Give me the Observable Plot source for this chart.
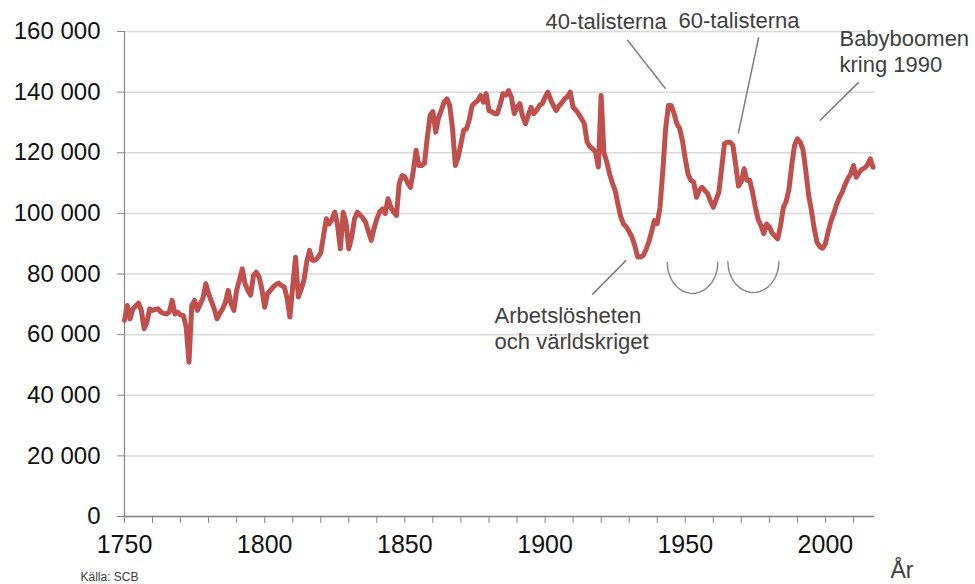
<!DOCTYPE html>
<html>
<head>
<meta charset="utf-8">
<script src="https://cdn.jsdelivr.net/npm/d3@7"></script>
<script src="https://cdn.jsdelivr.net/npm/@observablehq/plot@0.6"></script>
<style>
  html, body { margin: 0; padding: 0; background: #fff; }
  #chart svg { display: block; }
</style>
</head>
<body>
<div id="chart"></div>
<script>
// ---- Data (levande födda per år, läst ur bilden) ----
const startYear = 1750;

const births1750 = [
  64700, 69600, 65200, 68500, 69500, 70400, 68000, 61900, 64100, 68500,
  68000, 68300, 68500, 67400, 67000, 66800, 67500, 71300, 66800, 67400,
  66500, 66300, 62500, 50900, 69600, 71300, 68000, 70000, 72000, 76800,
  73500, 71000, 68500, 65200, 67000, 68500, 70700, 74600, 70200, 68000,
  74600, 78000, 81700, 76800, 74500, 73000, 79500, 80600, 79000, 75000
];
const births1800 = [
  69000, 73500, 74600, 75700, 76500, 77000, 76200, 75700, 72000, 65800,
  76000, 85500, 72400, 75000, 77900, 84000, 87800, 84500, 84500, 85500,
  87000, 92700, 98200, 96500, 98000, 100400, 96000, 88300, 100400, 97000,
  88300, 92000, 98000, 100400, 99500, 98500, 97100, 94000, 91100, 95000,
  98200, 100500, 101500, 99900, 104800, 102000, 100500, 99300, 110000, 112500
];
const births1850 = [
  112000, 110000, 108600, 114000, 120800, 115800, 115800, 116500, 125000, 132300,
  133600, 126800, 131500, 134000, 136700, 137800, 135500, 128000, 115800, 118500,
  123000, 127400, 127900, 131000, 135600, 136500, 137200, 138900, 136700, 139500,
  133900, 133500, 132900, 132900, 136000, 139500, 139000, 140500, 138300, 132900,
  135000, 136200, 132000, 129600, 132300, 135000, 132900, 134000, 135600, 136200
];
const births1900 = [
  138300, 140000, 137500, 135500, 133900, 135500, 136500, 137800, 138500, 140000,
  135000, 134000, 132800, 131200, 129600, 123500, 122000, 121300, 120200, 115300,
  138900, 120000, 117000, 113100, 110000, 107600, 103000, 98800, 96500, 95500,
  93900, 92200, 89400, 85600, 85600, 86100, 88000, 90500, 94000, 97600,
  96600, 102000, 114000, 128000, 135600, 135600, 133000, 129600, 128000, 124000
];
const births1950 = [
  118000, 113000, 110900, 110300, 105300, 107600, 108600, 107500, 106500, 104000,
  102000, 104500, 107000, 115000, 123000, 123500, 123500, 122500, 116000, 109000,
  110500, 114700, 110900, 110900, 107000, 102000, 98000, 96000, 93300, 96500,
  95500, 93500, 92500, 91600, 96000, 102000, 104000, 108000, 116000, 122500,
  124600, 123500, 121000, 114000, 106000, 101000, 95000, 90500, 89000, 88500,
  90000, 94000, 97500, 100000, 103000, 105300, 107000, 109500, 111500, 113000,
  115800, 111900, 113500, 114500, 115000, 116000, 118000, 115200
];

const yTicks = [0, 20000, 40000, 60000, 80000, 100000, 120000, 140000, 160000];
const xLabelTicks = [1750, 1800, 1850, 1900, 1950, 2000];
const xMinorTicks = [1750, 1760, 1770, 1780, 1790, 1800, 1810, 1820, 1830, 1840,
  1850, 1860, 1870, 1880, 1890, 1900, 1910, 1920, 1930, 1940, 1950, 1960, 1970,
  1980, 1990, 2000, 2010];

// Annotation texts, anchored in data space (year, births)
const noteTexts = ["40-talisterna", "60-talisterna", "Babyboomen\nkring 1990", "Arbetslösheten\noch världskriget"];
const noteYears = [1900.2, 1947.6, 2005.0, 1882.0];
const noteValues = [160700, 161000, 146500, 55400];

// Leader lines
const leaderX1 = [1929.3, 1976.2, 2011.9, 1928.9];
const leaderY1 = [157300, 158100, 143300, 84500];
const leaderX2 = [1943.0, 1968.9, 1998.0, 1916.8];
const leaderY2 = [141100, 126300, 130600, 73200];

// Brackets under the 40s/60s cohorts (left year, right year, top value, bottom value)
const arcLeft = [1943.6, 1965.2];
const arcRight = [1961.6, 1983.4];
const arcTop = [83800, 84100];
const arcBottom = [73600, 73900];

// ---- Build tables ----
const allBirths = [...births1750, ...births1800, ...births1850, ...births1900, ...births1950];
const series = allBirths.map((v, i) => ({year: startYear + i, births: v}));
const notes = noteTexts.map((t, i) => ({text: t, x: noteYears[i], y: noteValues[i]}));
const leaders = leaderX1.map((x, i) => ({x1: x, y1: leaderY1[i], x2: leaderX2[i], y2: leaderY2[i]}));
const arcPoints = [];
arcLeft.forEach((l, k) => {
  const cx = (l + arcRight[k]) / 2, rx = (arcRight[k] - l) / 2;
  for (let j = 0; j <= 24; j++) {
    const t = Math.PI * j / 24;
    arcPoints.push({arc: k, x: cx - rx * Math.cos(t), y: arcTop[k] - (arcTop[k] - arcBottom[k]) * Math.sin(t)});
  }
});

const fmt = d => d3.format(",")(d).replace(/,/g, " ");
const axisGray = "#868686";
const font = "'Liberation Sans', Arial, Helvetica, sans-serif";

const chart = Plot.plot({
  width: 975,
  height: 584,
  marginLeft: 124,
  marginRight: 101,
  marginTop: 31,
  marginBottom: 68,
  x: {domain: [1750, 2017.5], label: null},
  y: {domain: [0, 160000], label: null},
  style: {fontFamily: font, background: "#fff", overflow: "visible"},
  marks: [
    Plot.gridY(yTicks, {stroke: "#d9d9d9", strokeOpacity: 1, strokeWidth: 1.5}),
    Plot.ruleX([1750], {stroke: axisGray, strokeWidth: 1.2}),
    Plot.ruleY([0], {stroke: axisGray, strokeWidth: 1.5}),
    Plot.axisY(yTicks, {tickSize: 7, tickFormat: () => "", stroke: axisGray, label: null}),
    Plot.axisY(yTicks, {tickSize: 0, tickPadding: 24, tickFormat: fmt, fontSize: 24, fill: "#111", label: null}),
    Plot.axisX(xMinorTicks, {tickSize: 7, tickFormat: () => "", stroke: axisGray, label: null}),
    Plot.axisX(xLabelTicks, {tickSize: 0, tickPadding: 19, tickFormat: d => String(d), fontSize: 25, fill: "#111", label: null}),
    Plot.line(series, {x: "year", y: "births", stroke: "#c0504d", strokeWidth: 5, strokeLinejoin: "round", strokeLinecap: "round"}),
    Plot.link(leaders, {x1: "x1", y1: "y1", x2: "x2", y2: "y2", stroke: "#7f7f7f", strokeWidth: 1.5}),
    Plot.line(arcPoints, {x: "x", y: "y", z: "arc", stroke: "#8c8c8c", strokeWidth: 1.5}),
    Plot.text(notes, {x: "x", y: "y", text: "text", textAnchor: "start", lineAnchor: "bottom",
      fontSize: 22, lineHeight: 26 / 22, fill: "#404040"}),
    Plot.text(["År"], {frameAnchor: "bottom-right", dx: 16, dy: 61, textAnchor: "start", lineAnchor: "bottom",
      fontSize: 23, fill: "#404040"}),
    Plot.text(["Källa: SCB"], {frameAnchor: "bottom-left", dx: -44, dy: 64, textAnchor: "start", lineAnchor: "bottom",
      fontSize: 12, fill: "#404040"})
  ]
});

document.getElementById("chart").appendChild(chart);
</script>
</body>
</html>
